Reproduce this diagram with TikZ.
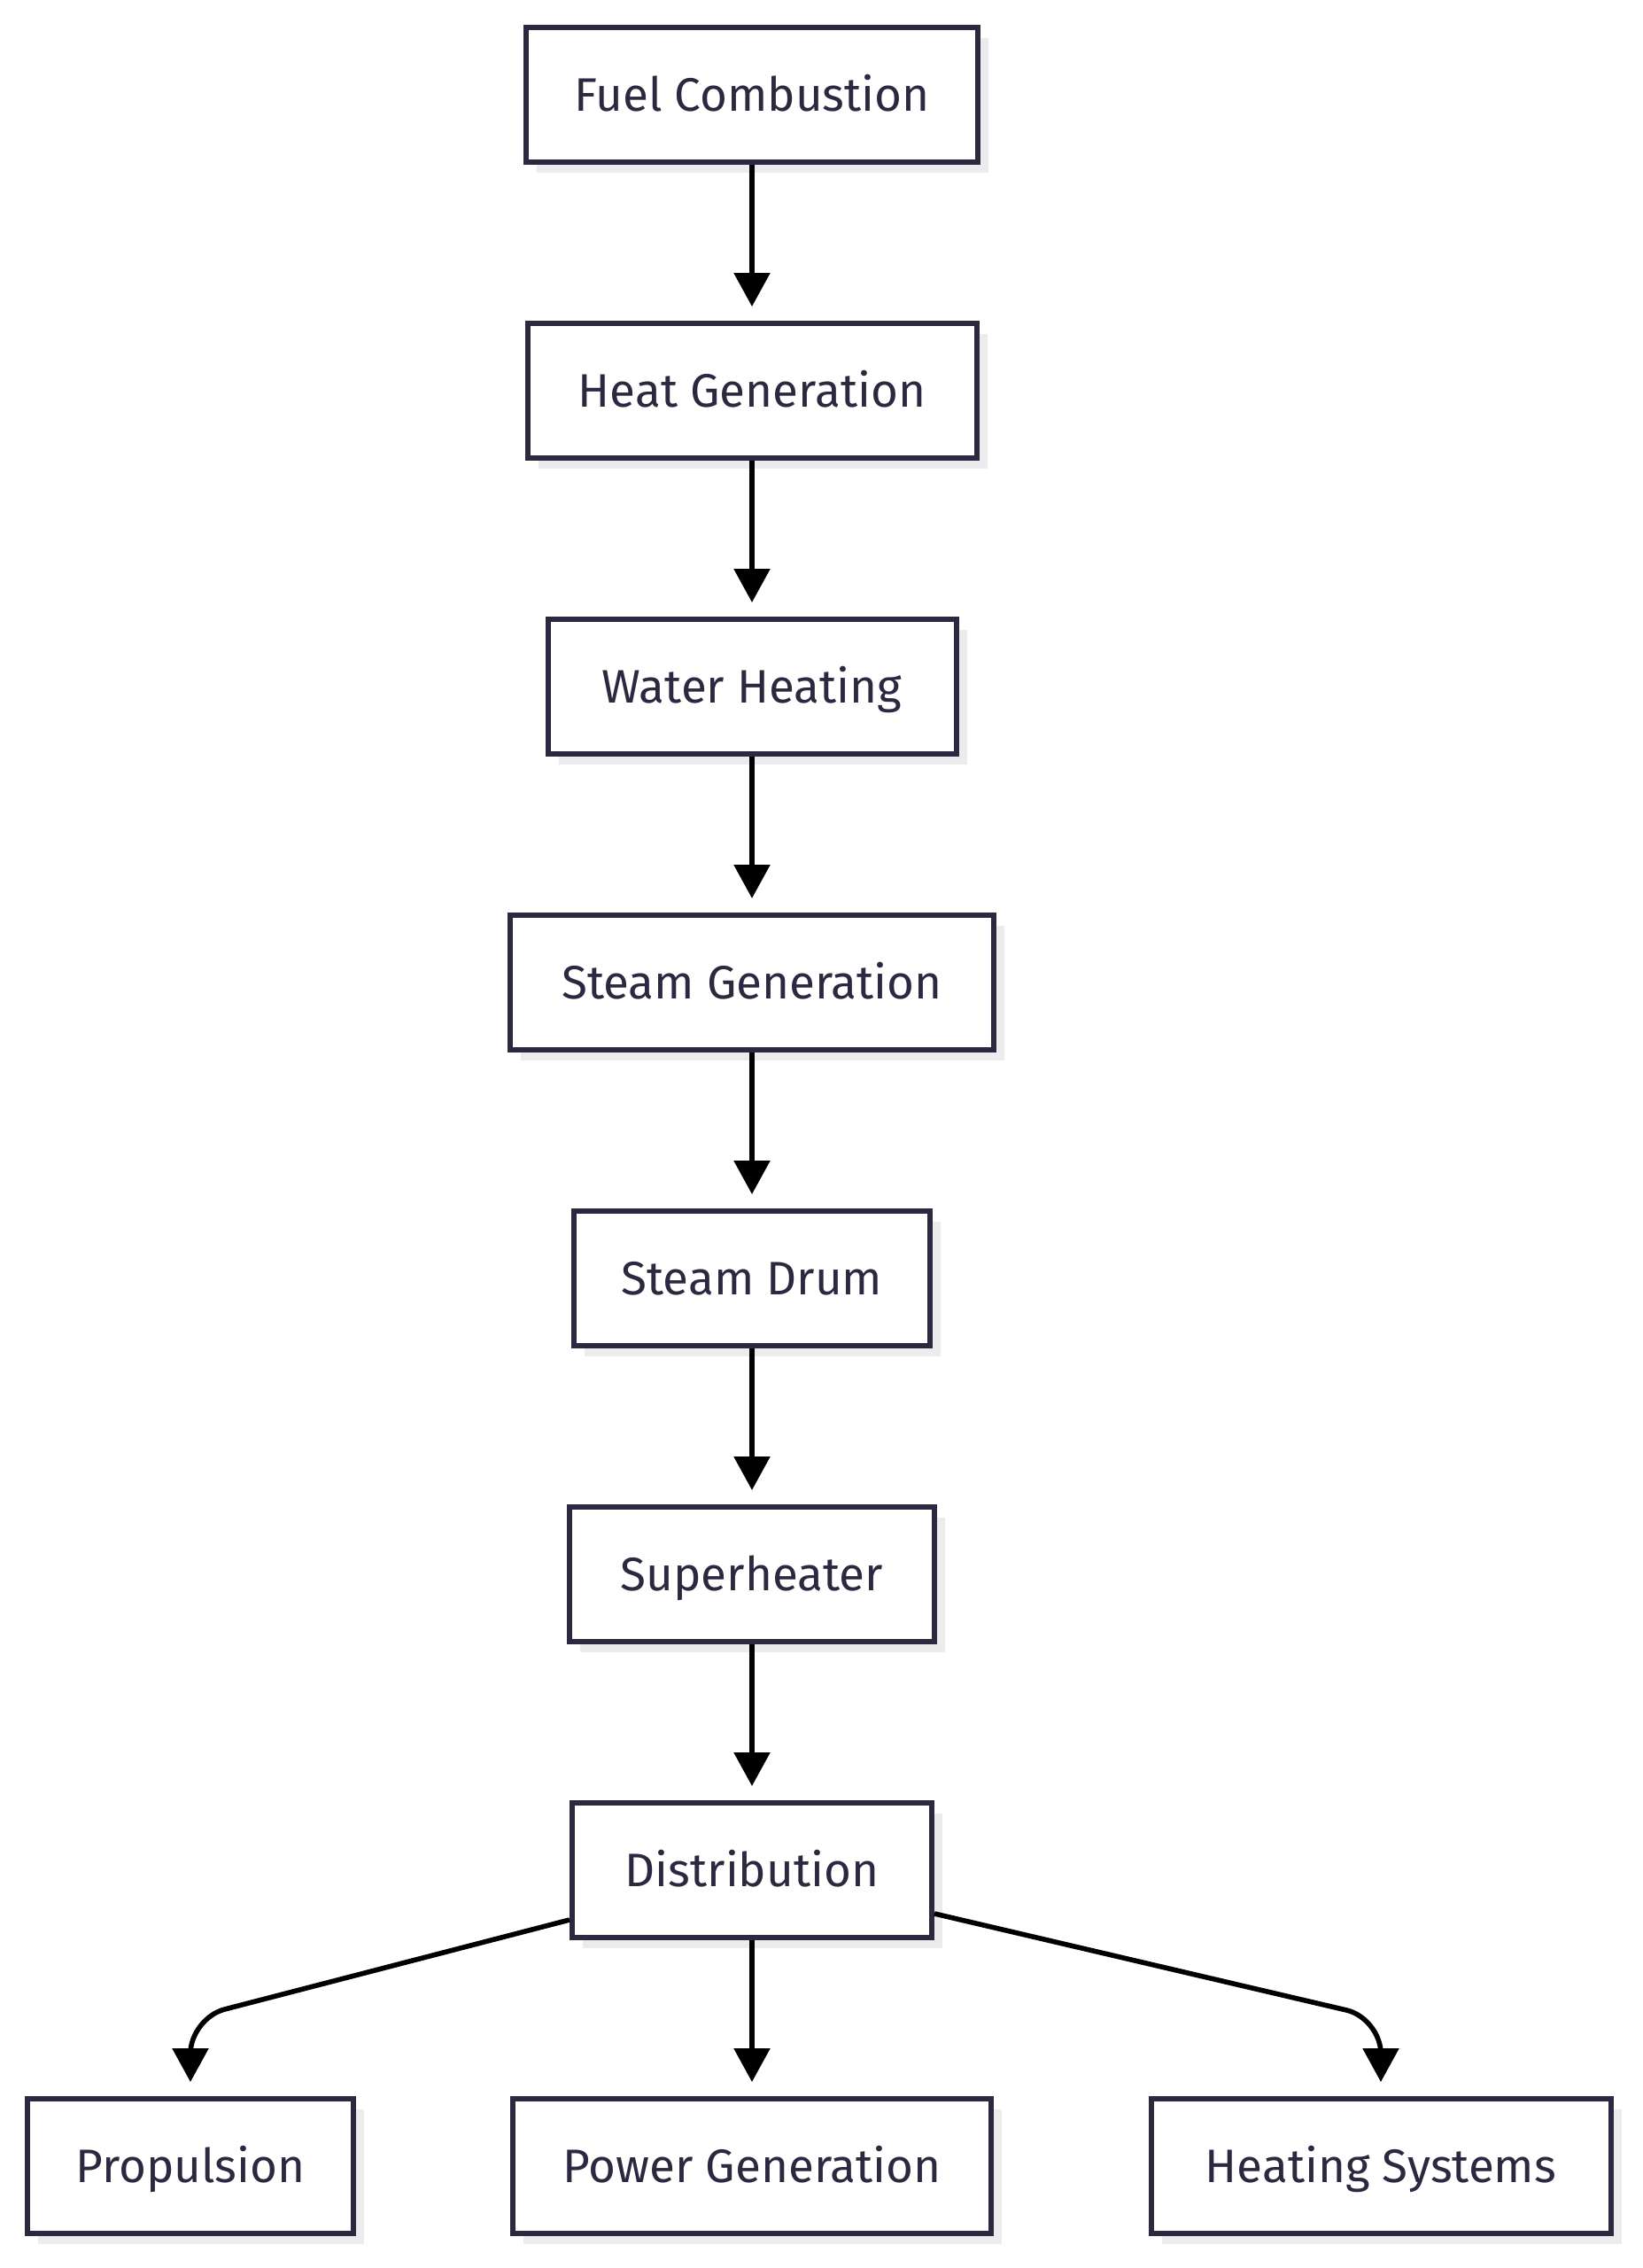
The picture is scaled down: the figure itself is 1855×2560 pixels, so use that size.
\documentclass[tikz,border=0pt]{standalone}
\usepackage{fontspec}
\setmainfont{Fira Sans}
\usetikzlibrary{arrows.meta,calc,shadows}
\definecolor{boxline}{RGB}{43,41,64}
\definecolor{txt}{RGB}{43,41,64}
\definecolor{shade}{RGB}{236,236,238}
\begin{document}
\begin{tikzpicture}[x=0.5pt,y=-0.5pt,
  box/.style={draw=boxline, line width=3pt, fill=white, minimum height=76pt,
    text=txt, font=\fontsize{26.5}{31}\selectfont, inner sep=0pt,
    text height=18.3pt, text depth=0pt,
    general shadow={fill=shade, shadow xshift=6pt, shadow yshift=-6pt}},
  arr/.style={line width=2.8pt, draw=black, -{Triangle[length=19pt,width=20pt]}, shorten >=8pt}]
\useasboundingbox[fill=white] (0,0) rectangle (1855,2560);

\node[box, minimum width=255pt]   (fuel)  at (849,107)  {Fuel Combustion};
\node[box, minimum width=253.5pt] (heat)  at (849,441)  {Heat Generation};
\node[box, minimum width=230.5pt] (water) at (849,775)  {Water Heating};
\node[box, minimum width=273pt]   (steam) at (849,1109) {Steam Generation};
\node[box, minimum width=201pt]   (drum)  at (849,1443) {Steam Drum};
\node[box, minimum width=206pt]   (super) at (849,1777) {Superheater};
\node[box, minimum width=203pt]   (dist)  at (849,2111) {Distribution};
\node[box, minimum width=184pt]   (prop)  at (215,2445) {Propulsion};
\node[box, minimum width=270pt]   (power) at (849,2445) {Power Generation};
\node[box, minimum width=259.5pt] (hsys)  at (1559,2445) {Heating Systems};

\draw[arr] (fuel) -- (heat);
\draw[arr] (heat) -- (water);
\draw[arr] (water) -- (steam);
\draw[arr] (steam) -- (drum);
\draw[arr] (drum) -- (super);
\draw[arr] (super) -- (dist);
\draw[arr] (dist) -- (power);

\coordinate (cl) at (215,2278);
\coordinate (cr) at (1559,2278);
\draw[arr, rounded corners=20] ($(dist.west)+(0,56)$) -- (cl) -- (prop.north);
\draw[arr, rounded corners=20] ($(dist.east)+(0,49)$) -- (cr) -- (hsys.north);
\end{tikzpicture}
\end{document}
